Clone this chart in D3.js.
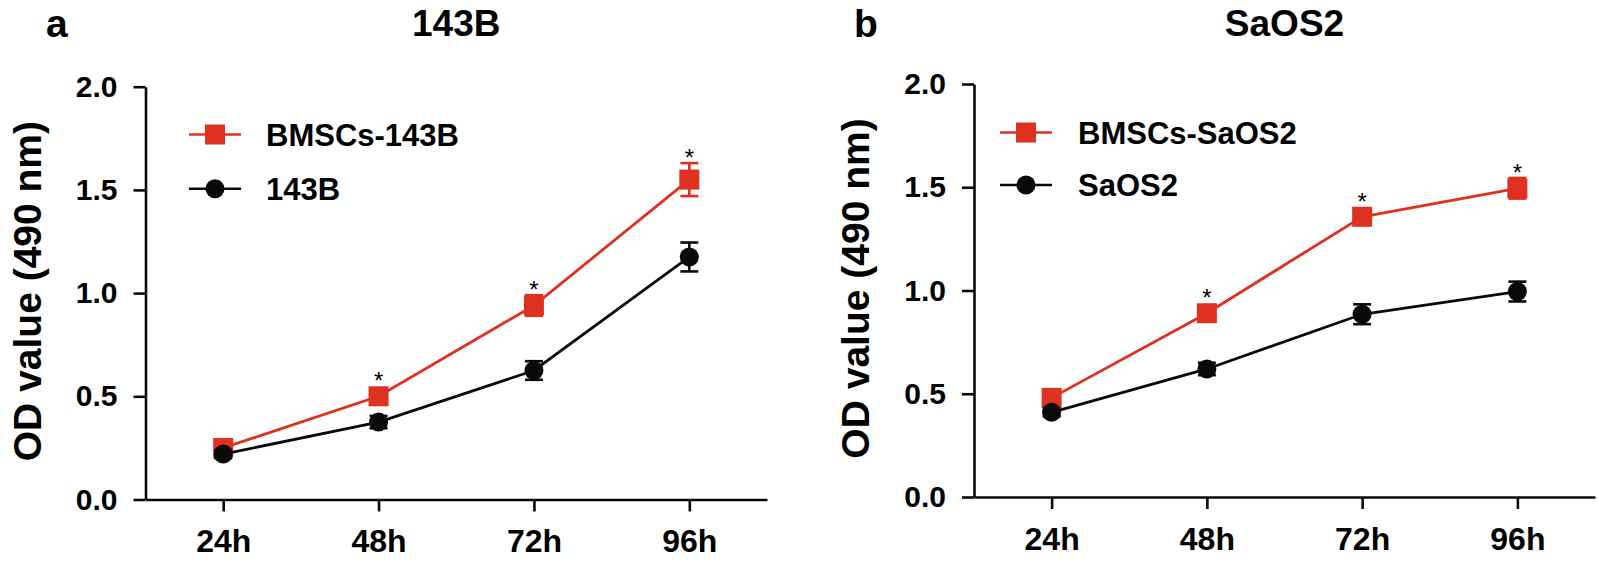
<!DOCTYPE html>
<html>
<head>
<meta charset="utf-8">
<script src="https://cdn.jsdelivr.net/npm/d3@7"></script>
<style>
  body { margin: 0; background: #fff; }
  svg text { font-family: "Liberation Sans", Arial, sans-serif; font-weight: bold; fill: #000; }
</style>
</head>
<body>
<script>
'use strict';

// time points on the x axis
const timeLabels = ["24h", "48h", "72h", "96h"];
// y tick values
const yTickValues = [0, 0.5, 1.0, 1.5, 2.0];

// panel a (143B)
const bmscs143B = [0.25, 0.50, 0.94, 1.55];
const bmscs143BErr = [0.02, 0.02, 0.05, 0.08];
const only143B = [0.22, 0.375, 0.625, 1.175];
const only143BErr = [0.02, 0.03, 0.045, 0.07];
const stars143B = [false, true, true, true];

// panel b (SaOS2)
const bmscsSaOS2 = [0.48, 0.89, 1.357, 1.495];
const bmscsSaOS2Err = [0.02, 0.03, 0.03, 0.05];
const onlySaOS2 = [0.41, 0.62, 0.885, 0.995];
const onlySaOS2Err = [0.02, 0.03, 0.048, 0.048];
const starsSaOS2 = [false, true, true, true];

const RED = "#e0301f";
const BLACK = "#0a0a0a";

// layout for each panel (pixels)
const panels = [
  {
    letter: "a", title: "143B",
    left: 145.5, right: 767, top: 86.7, bottom: 499.5,
    letterX: 46, labelX: 41, legendX: 189, legendY: [134.5, 188.7], legendTextX: 266,
    series: [
      { name: "BMSCs-143B", values: bmscs143B, errs: bmscs143BErr, color: RED, shape: "square" },
      { name: "143B", values: only143B, errs: only143BErr, color: BLACK, shape: "circle" }
    ],
    stars: stars143B
  },
  {
    letter: "b", title: "SaOS2",
    left: 974, right: 1595, top: 84, bottom: 497,
    letterX: 854, labelX: 869, legendX: 1000, legendY: [132.5, 185], legendTextX: 1078,
    series: [
      { name: "BMSCs-SaOS2", values: bmscsSaOS2, errs: bmscsSaOS2Err, color: RED, shape: "square" },
      { name: "SaOS2", values: onlySaOS2, errs: onlySaOS2Err, color: BLACK, shape: "circle" }
    ],
    stars: starsSaOS2
  }
];

const svg = d3.select("body").append("svg")
  .attr("width", 1598)
  .attr("height", 566);

panels.forEach(drawPanel);

function drawMarker(g, shape, color, x, y) {
  if (shape === "square") {
    g.append("rect")
      .attr("x", x - 10).attr("y", y - 10)
      .attr("width", 20).attr("height", 20)
      .attr("fill", color);
  } else {
    g.append("circle")
      .attr("cx", x).attr("cy", y).attr("r", 9.5)
      .attr("fill", color);
  }
}

function drawPanel(p) {
  let g = svg.append("g");

  let xScale = d3.scalePoint()
    .domain(timeLabels)
    .range([p.left, p.right])
    .padding(0.5);

  let yScale = d3.scaleLinear()
    .domain([0, 2])
    .range([p.bottom, p.top]);

  // y axis
  let yAxis = d3.axisLeft(yScale)
    .tickValues(yTickValues)
    .tickFormat(d3.format(".1f"))
    .tickSize(12)
    .tickSizeOuter(0)
    .tickPadding(16);
  let yG = g.append("g")
    .attr("transform", `translate(${p.left}, 0)`)
    .call(yAxis);

  // x axis
  let xAxis = d3.axisBottom(xScale)
    .tickSize(12)
    .tickSizeOuter(0)
    .tickPadding(18);
  let xG = g.append("g")
    .attr("transform", `translate(0, ${p.bottom})`)
    .call(xAxis);

  [yG, xG].forEach(a => {
    a.selectAll("path, line").attr("stroke", BLACK).attr("stroke-width", 2.6);
    a.selectAll("text").attr("fill", "#000").attr("font-weight", "bold")
      .attr("font-family", "'Liberation Sans', Arial, sans-serif");
  });
  yG.selectAll("text").style("font-size", "30px");
  xG.selectAll("text").style("font-size", "32px");

  // panel letter and title
  g.append("text")
    .attr("x", p.letterX).attr("y", 37)
    .style("font-size", "39px")
    .text(p.letter);

  g.append("text")
    .attr("x", (p.left + p.right) / 2).attr("y", 36)
    .attr("text-anchor", "middle")
    .style("font-size", "37px")
    .text(p.title);

  // y axis label
  g.append("text")
    .attr("transform", `translate(${p.labelX}, ${(p.top + p.bottom) / 2 - 2}) rotate(-90)`)
    .attr("text-anchor", "middle")
    .style("font-size", "39px")
    .text("OD value (490 nm)");

  // series: lines, error bars, markers
  p.series.forEach(s => {
    let pts = timeLabels.map((t, i) => ({ t: t, v: s.values[i], e: s.errs[i] }));

    let line = d3.line()
      .x(d => xScale(d.t))
      .y(d => yScale(d.v));

    g.append("path")
      .datum(pts)
      .attr("fill", "none")
      .attr("stroke", s.color)
      .attr("stroke-width", 2.8)
      .attr("d", line);

    pts.forEach(d => {
      let x = xScale(d.t);
      let y0 = yScale(d.v - d.e);
      let y1 = yScale(d.v + d.e);
      g.append("line")
        .attr("x1", x).attr("x2", x).attr("y1", y0).attr("y2", y1)
        .attr("stroke", s.color).attr("stroke-width", 2.6);
      [y0, y1].forEach(yy => {
        g.append("line")
          .attr("x1", x - 9).attr("x2", x + 9).attr("y1", yy).attr("y2", yy)
          .attr("stroke", s.color).attr("stroke-width", 2.6);
      });
      drawMarker(g, s.shape, s.color, x, yScale(d.v));
    });
  });

  // significance stars above the top series
  let top = p.series[0];
  timeLabels.forEach((t, i) => {
    if (!p.stars[i]) return;
    let capTop = Math.min(yScale(top.values[i] + top.errs[i]), yScale(top.values[i]) - 10);
    g.append("text")
      .attr("x", xScale(t)).attr("y", capTop + 3)
      .attr("text-anchor", "middle")
      .style("font-size", "24px")
      .style("font-weight", "normal")
      .text("*");
  });

  // legend
  p.series.forEach((s, i) => {
    let ly = p.legendY[i];
    g.append("line")
      .attr("x1", p.legendX).attr("x2", p.legendX + 52)
      .attr("y1", ly).attr("y2", ly)
      .attr("stroke", s.color).attr("stroke-width", 2.6);
    drawMarker(g, s.shape, s.color, p.legendX + 26, ly);
    g.append("text")
      .attr("x", p.legendTextX).attr("y", ly + 11)
      .style("font-size", "31px")
      .text(s.name);
  });
}
</script>
</body>
</html>
